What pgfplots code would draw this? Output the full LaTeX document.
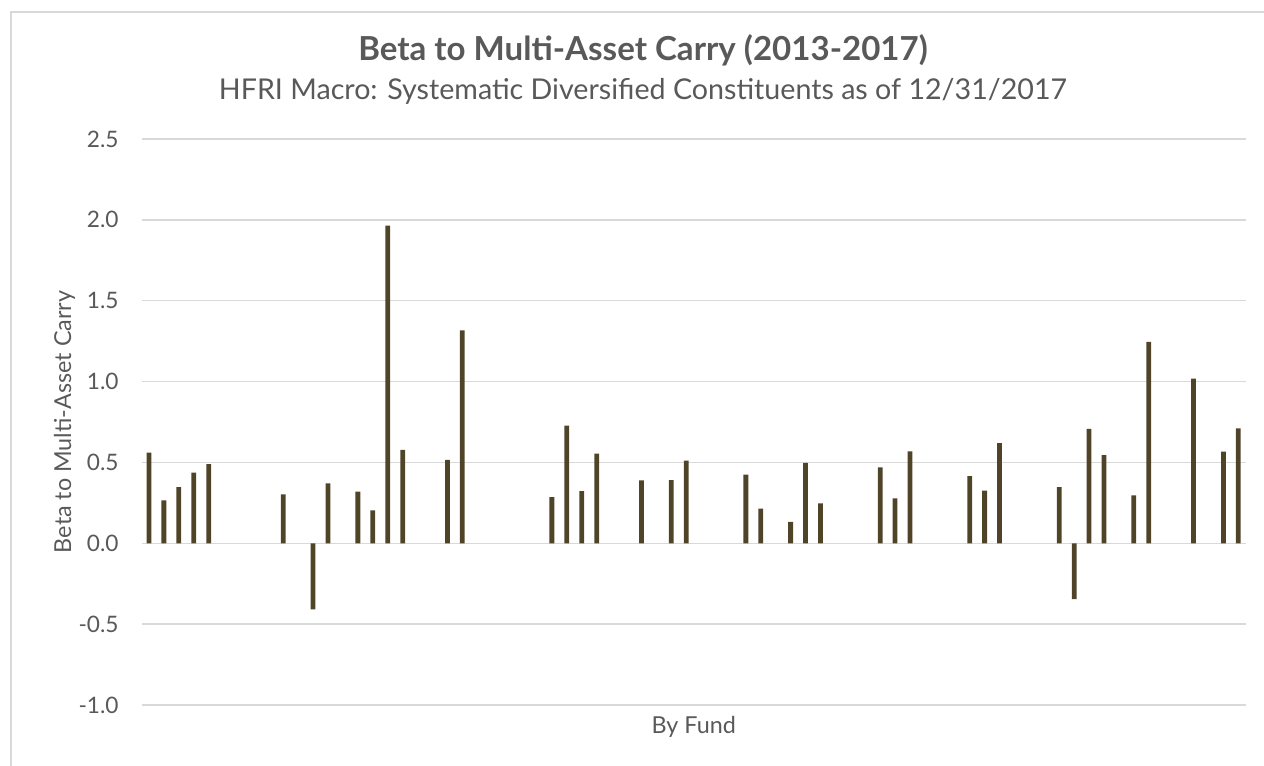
\documentclass[border=0pt]{standalone}
\usepackage{fontspec}
\setmainfont{Lato}
\usepackage{graphicx}
\usepackage{pgfplots}
\pgfplotsset{compat=1.18}
\definecolor{barc}{RGB}{80,68,40}
\definecolor{gridc}{RGB}{217,217,217}
\definecolor{txt}{RGB}{89,89,89}
\begin{document}
\begin{tikzpicture}[x=0.75pt,y=0.75pt]
\path[use as bounding box] (0,0) rectangle (1264,766);
\draw[gridc,line width=1.5pt] (11,0) -- (11,754) -- (1264,754);
\begin{axis}[
  at={(106.125pt,45.75pt)}, anchor=south west,
  width=828.2pt, height=424.5pt, scale only axis,
  xmin=-0.5, xmax=73.5, ymin=-1, ymax=2.5,
  axis line style={draw=none},
  xtick=\empty,
  ytick={-1,-0.5,0,0.5,1,1.5,2,2.5},
  yticklabels={-1.0,-0.5,0.0,0.5,1.0,1.5,2.0,2.5},
  ymajorgrids,
  major grid style={gridc,line width=1.1pt},
  tick style={draw=none},
  yticklabel style={font=\fontsize{17}{20}\selectfont, text=txt, anchor=east, inner sep=0pt, xshift=-17pt},
  ybar, bar width=0.32,
  clip=false,
]
\addplot[fill=barc, draw=none] coordinates {
(0,0.561) (1,0.265) (2,0.348) (3,0.437) (4,0.490)
(9,0.302) (11,-0.408) (12,0.371) (14,0.319) (15,0.203)
(16,1.965) (17,0.578) (20,0.516) (21,1.317)
(27,0.286) (28,0.727) (29,0.323) (30,0.555)
(33,0.389) (35,0.391) (36,0.511)
(40,0.424) (41,0.215) (43,0.132) (44,0.497) (45,0.246)
(49,0.470) (50,0.277) (51,0.569)
(55,0.416) (56,0.325) (57,0.619)
(61,0.348) (62,-0.346) (63,0.708) (64,0.545)
(66,0.296) (67,1.246) (70,1.018) (72,0.567) (73,0.710)
};
\end{axis}
\node[anchor=base,text=txt,inner sep=0pt] at (643,705) {\resizebox{427pt}{!}{\bfseries Beta to Multi-Asset Carry (2013-2017)}};
\node[anchor=base,text=txt,inner sep=0pt] at (643,666) {\resizebox{636pt}{!}{HFRI Macro: Systematic Diversified Constituents as of 12/31/2017}};
\node[anchor=base,text=txt,inner sep=0pt,font=\fontsize{17.5}{20}\selectfont] at (693.7,32) {By Fund};
\node[anchor=base,rotate=90,text=txt,inner sep=0pt,font=\fontsize{17.5}{20}\selectfont] at (71,344) {Beta to Multi-Asset Carry};
\end{tikzpicture}
\end{document}
